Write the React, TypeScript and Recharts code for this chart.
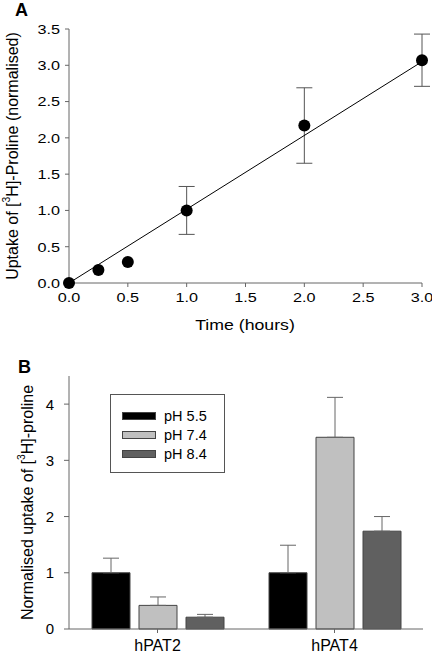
import React from 'react';
import {
  ScatterChart,
  Scatter,
  BarChart,
  Bar,
  XAxis,
  YAxis,
  ErrorBar,
  Label,
} from 'recharts';

// panel A: time course
const timeHours = [0, 0.25, 0.5, 1, 2, 3];
const uptake = [0, 0.18, 0.29, 1.0, 2.17, 3.07];
const uptakeErr = [0, 0, 0, 0.33, 0.52, 0.36];
const fitX = [0, 3];
const fitY = [0, 3.05];
const timeTicks = [0, 0.5, 1, 1.5, 2, 2.5, 3];
const uptakeTicks = [0, 0.5, 1, 1.5, 2, 2.5, 3, 3.5];

// panel B: pH dependence
const transporters = ['hPAT2', 'hPAT4'];
const ph55 = [1.0, 1.0];
const ph55Err = [0.26, 0.49];
const ph74 = [0.42, 3.41];
const ph74Err = [0.15, 0.71];
const ph84 = [0.21, 1.74];
const ph84Err = [0.05, 0.26];
const normTicks = [0, 1, 2, 3, 4];

const SERIES = [
  { key: 'ph55', name: 'pH 5.5', color: '#000000' },
  { key: 'ph74', name: 'pH 7.4', color: '#c0c0c0' },
  { key: 'ph84', name: 'pH 8.4', color: '#606060' },
];

const FONT = '"Liberation Sans", Arial, sans-serif';
const AXIS = '#666666';

const points = timeHours.map((t, i) => ({ x: t, y: uptake[i], err: uptakeErr[i] }));
const fit = fitX.map((x, i) => ({ x, y: fitY[i] }));

const bars = transporters.map((name, i) => ({
  name,
  ph55: ph55[i],
  ph74: ph74[i],
  ph84: ph84[i],
  ph55Err: [0, ph55Err[i]],
  ph74Err: [0, ph74Err[i]],
  ph84Err: [0, ph84Err[i]],
}));

// the original figure is a bit stretched sideways, so ticks get a scaleX
const stretchTick =
  (fontSize: number, sx: number, side: 'left' | 'bottom', fmt: (v: any) => string) =>
  (p: any) => (
    <g transform={`translate(${p.x},${p.y}) scale(${sx},1)`}>
      <text
        textAnchor={side === 'left' ? 'end' : 'middle'}
        dy={side === 'left' ? '0.36em' : '0.71em'}
        fontSize={fontSize}
        fontFamily={FONT}
        fill="#000"
      >
        {fmt(p.payload.value)}
      </text>
    </g>
  );

const oneDec = (v: number) => v.toFixed(1);

// rotated y title with a superscript 3
const yTitle = (before: string, after: string, cx: number, size: number) => (props: any) => {
  const vb = props.viewBox || { y: 0, height: 0 };
  const cy = vb.y + vb.height / 2;
  return (
    <text
      x={cx}
      y={cy}
      transform={`rotate(-90, ${cx}, ${cy})`}
      textAnchor="middle"
      dominantBaseline="central"
      fontSize={size}
      fontFamily={FONT}
      fill="#000"
    >
      {before}
      <tspan dy={-6} fontSize={size * 0.65}>3</tspan>
      <tspan dy={6}>{after}</tspan>
    </text>
  );
};

const xTitle = () => (
  <text
    x={0}
    y={0}
    transform="translate(245,325) scale(1.18,1)"
    textAnchor="middle"
    dominantBaseline="central"
    fontSize={15}
    fontFamily={FONT}
    fontWeight="normal"
    fill="#000"
  >
    Time (hours)
  </text>
);

const LegendBox = () => (
  <div
    style={{
      position: 'absolute',
      left: 110,
      top: 394,
      width: 115,
      height: 79,
      boxSizing: 'border-box',
      border: '1px solid #555',
      padding: '11px 0 0 11px',
      background: '#fff',
    }}
  >
    {SERIES.map((s) => (
      <div key={s.key} style={{ display: 'flex', alignItems: 'center', height: 19.2 }}>
        <div
          style={{
            width: 34,
            height: 8,
            boxSizing: 'border-box',
            background: s.color,
            border: '1px solid #444',
            marginRight: 8,
          }}
        />
        <span style={{ fontSize: 14.5, fontFamily: FONT, color: '#000' }}>{s.name}</span>
      </div>
    ))}
  </div>
);

export default function App() {
  return (
    <div style={{ position: 'absolute', left: 0, top: 0, width: 432, height: 656, background: '#fff', overflow: 'hidden' }}>
      <div style={{ position: 'absolute', left: 0, top: 0 }}>
        <ScatterChart width={432} height={340} margin={{ top: 29, right: 10, bottom: 27, left: 0 }}>
          <XAxis
            type="number"
            dataKey="x"
            domain={[0, 3]}
            ticks={timeTicks}
            height={30}
            stroke={AXIS}
            tickSize={4}
            tickMargin={5}
            tick={stretchTick(13.5, 1.2, 'bottom', oneDec)}
          >
            <Label content={xTitle} />
          </XAxis>
          <YAxis
            type="number"
            dataKey="y"
            domain={[0, 3.5]}
            ticks={uptakeTicks}
            width={69}
            stroke={AXIS}
            tickSize={4}
            tickMargin={5}
            tick={stretchTick(13.5, 1.2, 'left', oneDec)}
          >
            <Label content={yTitle('Uptake of [', 'H]-Proline (normalised)', 12, 16)} />
          </YAxis>
          <Scatter
            data={fit}
            line={{ stroke: '#000', strokeWidth: 1 }}
            shape={() => <g />}
            isAnimationActive={false}
          />
          <Scatter
            data={points}
            fill="#000"
            shape={(p: any) => <circle cx={p.cx} cy={p.cy} r={6} fill="#000" />}
            isAnimationActive={false}
          >
            <ErrorBar dataKey="err" direction="y" width={8} stroke="#555" strokeWidth={1} />
          </Scatter>
        </ScatterChart>
      </div>
      <div style={{ position: 'absolute', left: 15, top: 0, fontSize: 18, fontWeight: 'bold', fontFamily: FONT }}>
        A
      </div>

      <div style={{ position: 'absolute', left: 0, top: 330 }}>
        <BarChart
          width={432}
          height={326}
          data={bars}
          margin={{ top: 46, right: 9, bottom: 2, left: 0 }}
          barCategoryGap={23}
          barGap={9}
        >
          <XAxis
            dataKey="name"
            height={25}
            stroke={AXIS}
            tickSize={4}
            tickMargin={7}
            tick={stretchTick(16, 1, 'bottom', (v) => String(v))}
          />
          <YAxis
            type="number"
            domain={[0, 4.5]}
            ticks={normTicks}
            width={69}
            stroke={AXIS}
            tickSize={5}
            tickMargin={10}
            tick={stretchTick(15, 1, 'left', (v) => String(v))}
          >
            <Label content={yTitle('Normalised uptake of [', 'H]-proline', 27, 16)} />
          </YAxis>
          {SERIES.map((s) => (
            <Bar
              key={s.key}
              dataKey={s.key}
              name={s.name}
              fill={s.color}
              stroke="#444"
              strokeWidth={1}
              isAnimationActive={false}
            >
              <ErrorBar dataKey={`${s.key}Err`} direction="y" width={8} stroke="#666" strokeWidth={1} />
            </Bar>
          ))}
        </BarChart>
      </div>
      <div style={{ position: 'absolute', left: 18, top: 357, fontSize: 18, fontWeight: 'bold', fontFamily: FONT }}>
        B
      </div>
      <LegendBox />
    </div>
  );
}
